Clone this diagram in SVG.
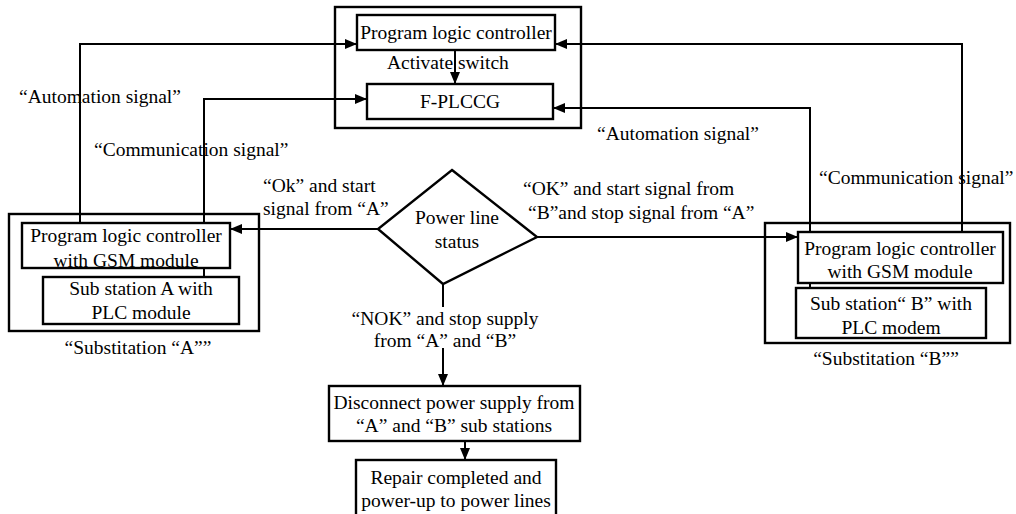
<svg xmlns="http://www.w3.org/2000/svg" width="1016" height="514" viewBox="0 0 1016 514">
<style>
text{font-family:"Liberation Serif","Times New Roman",serif;font-size:19.5px;fill:#000}
.c{text-anchor:middle}
.box{fill:#fff;stroke:#000;stroke-width:2.4}
.frame{fill:none;stroke:#000;stroke-width:2.4}
.ln{fill:none;stroke:#000;stroke-width:2}
</style>
<defs>
<marker id="ah" viewBox="0 0 12 10" refX="12" refY="5" markerWidth="12" markerHeight="10" orient="auto" markerUnits="userSpaceOnUse"><path d="M0,0 L12,5 L0,10 z" fill="#000"/></marker>
</defs>
<rect width="1016" height="514" fill="#fff"/>

<g id="top-group">
<rect class="frame" x="335" y="7" width="246" height="121"/>
<g id="plc-top"><rect class="box" x="357" y="15" width="198" height="35"/><text class="c" x="456" y="39">Program logic controller</text></g>
<g id="fplccg"><rect class="box" x="367" y="84" width="186" height="35"/><text class="c" x="460" y="108">F-PLCCG</text></g>
<text x="387" y="68.5">Activate switch</text>
</g>

<g id="substation-a">
<rect class="frame" x="9" y="214" width="250" height="117"/>
<g id="plc-a"><rect class="box" x="22" y="223" width="208" height="45"/><text class="c" x="126" y="242">Program logic controller</text><text class="c" x="126" y="267">with GSM module</text></g>
<g id="sub-a"><rect class="box" x="43" y="277" width="196" height="47"/><text class="c" x="141" y="295">Sub station A with</text><text class="c" x="141" y="319">PLC module</text></g>
<text class="c" x="138" y="354">“Substitation “A””</text>
</g>

<g id="substation-b">
<rect class="frame" x="765" y="223" width="245" height="120"/>
<g id="plc-b"><rect class="box" x="798" y="232" width="205" height="51"/><text class="c" x="900" y="255">Program logic controller</text><text class="c" x="900" y="278">with GSM module</text></g>
<g id="sub-b"><rect class="box" x="796" y="288" width="190" height="50"/><text class="c" x="891" y="310">Sub station“ B” with</text><text class="c" x="891" y="334">PLC modem</text></g>
<text class="c" x="886" y="365">“Substitation “B””</text>
</g>

<g id="decision">
<polygon class="box" points="452,170 537,237 443,284 378,229"/>
<text class="c" x="457" y="224">Power line</text>
<text class="c" x="457" y="248">status</text>
</g>

<g id="disconnect"><rect class="box" x="329" y="386" width="251" height="55"/><text class="c" x="454" y="409">Disconnect power supply from</text><text class="c" x="454" y="432">“A” and “B” sub stations</text></g>

<g id="repair"><rect class="box" x="356" y="460" width="200" height="58"/><text class="c" x="456" y="484">Repair completed and</text><text class="c" x="456" y="507">power-up to power lines</text></g>

<g id="connectors">
<line class="ln" x1="455" y1="50" x2="455" y2="84" marker-end="url(#ah)"/>
<polyline class="ln" points="80,223 80,44 357,44" marker-end="url(#ah)"/>
<polyline class="ln" points="204,223 204,99 367,99" marker-end="url(#ah)"/>
<line class="ln" x1="204" y1="268" x2="204" y2="277"/>
<polyline class="ln" points="962,232 962,44 555,44" marker-end="url(#ah)"/>
<polyline class="ln" points="810,232 810,108 553,108" marker-end="url(#ah)"/>
<line class="ln" x1="810" y1="283" x2="810" y2="288"/>
<line class="ln" x1="378" y1="229" x2="230" y2="229" marker-end="url(#ah)"/>
<line class="ln" x1="537" y1="237" x2="798" y2="237" marker-end="url(#ah)"/>
<line class="ln" x1="443" y1="284" x2="443" y2="307"/>
<line class="ln" x1="443" y1="348" x2="443" y2="386" marker-end="url(#ah)"/>
<line class="ln" x1="465" y1="441" x2="465" y2="460" marker-end="url(#ah)"/>
</g>

<g id="labels">
<text x="19" y="103">“Automation signal”</text>
<text x="94" y="156">“Communication signal”</text>
<text x="597" y="140">“Automation signal”</text>
<text x="819" y="184">“Communication signal”</text>
<text x="263" y="192">“Ok” and start</text>
<text x="263" y="215">signal from “A”</text>
<text x="523" y="195">“OK” and start signal from</text>
<text x="528" y="219">“B”and stop signal from “A”</text>
<text class="c" x="445" y="325">“NOK” and stop supply</text>
<text class="c" x="445" y="347">from “A” and “B”</text>
</g>
</svg>
